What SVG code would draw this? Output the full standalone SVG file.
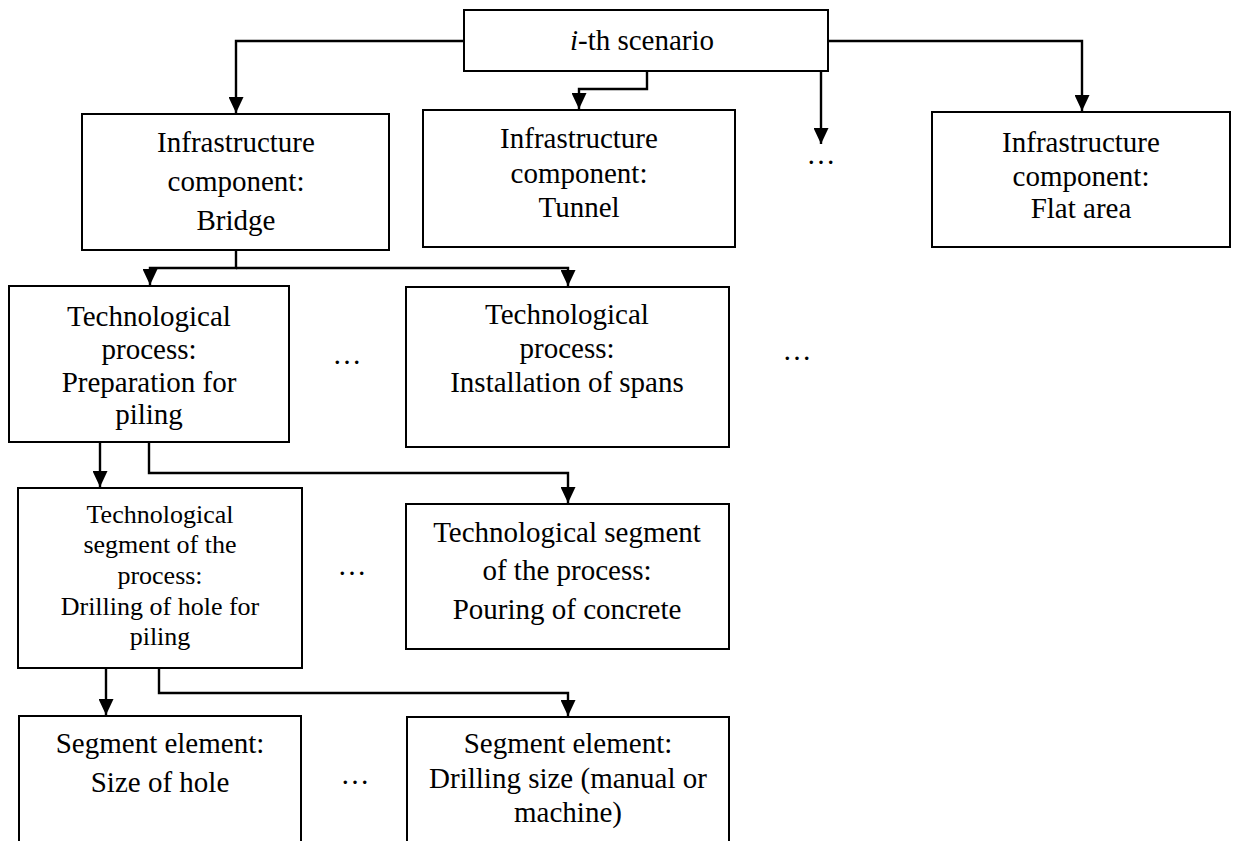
<svg xmlns="http://www.w3.org/2000/svg" width="1235" height="841" viewBox="0 0 1235 841">
  <defs>
    <style>
      .box { fill: #ffffff; stroke: #000000; stroke-width: 2; }
      .wire { fill: none; stroke: #000000; stroke-width: 2.4; }
      .lbl { font-family: 'Liberation Serif', 'DejaVu Serif', 'Times New Roman', serif; fill: #000000; text-anchor: middle; }
      .t29 { font-size: 29px; }
      .t26 { font-size: 26px; }
    </style>
    <marker id="arrow" viewBox="0 0 16 15" refX="16" refY="7.5" markerWidth="16" markerHeight="15" markerUnits="userSpaceOnUse" orient="auto">
      <path d="M0,0 L16,7.5 L0,15 Z" fill="#000000"/>
    </marker>
  </defs>
  <rect width="1235" height="841" fill="#ffffff"/>

  <!-- connectors -->
  <g id="connectors" class="wire">
    <path d="M464,41 H236 V113" marker-end="url(#arrow)"/>
    <path d="M647,71 V89 H579 V109" marker-end="url(#arrow)"/>
    <path d="M821,68 V144" marker-end="url(#arrow)"/>
    <path d="M828,41 H1082 V111" marker-end="url(#arrow)"/>
    <path d="M236,250 V268 H150 V285" marker-end="url(#arrow)"/>
    <path d="M236,268 H568 V286" marker-end="url(#arrow)"/>
    <path d="M100,442 V487" marker-end="url(#arrow)"/>
    <path d="M149,442 V473 H568 V503" marker-end="url(#arrow)"/>
    <path d="M106,668 V715" marker-end="url(#arrow)"/>
    <path d="M159,668 V693 H568 V716" marker-end="url(#arrow)"/>
  </g>

  <g class="lbl" font-family="'Liberation Serif', 'DejaVu Serif', 'Times New Roman', serif">
    <!-- root -->
    <g id="scenario">
      <rect class="box" x="464" y="10" width="364" height="61"/>
      <text class="t29" x="642" y="50"><tspan font-style="italic">i</tspan>-th scenario</text>
    </g>

    <!-- infrastructure components -->
    <g id="bridge">
      <rect class="box" x="82" y="114" width="307" height="136"/>
      <text class="t29" x="236" y="152">Infrastructure</text>
      <text class="t29" x="236" y="191">component:</text>
      <text class="t29" x="236" y="230">Bridge</text>
    </g>
    <g id="tunnel">
      <rect class="box" x="423" y="110" width="312" height="137"/>
      <text class="t29" x="579" y="148">Infrastructure</text>
      <text class="t29" x="579" y="183">component:</text>
      <text class="t29" x="579" y="217">Tunnel</text>
    </g>
    <g id="more-components">
      <text class="t29" x="821" y="164">…</text>
    </g>
    <g id="flat-area">
      <rect class="box" x="932" y="112" width="298" height="135"/>
      <text class="t29" x="1081" y="152">Infrastructure</text>
      <text class="t29" x="1081" y="186">component:</text>
      <text class="t29" x="1081" y="218">Flat area</text>
    </g>

    <!-- technological processes -->
    <g id="process-piling">
      <rect class="box" x="9" y="286" width="280" height="156"/>
      <text class="t29" x="149" y="326">Technological</text>
      <text class="t29" x="149" y="359">process:</text>
      <text class="t29" x="149" y="392">Preparation for</text>
      <text class="t29" x="149" y="424">piling</text>
    </g>
    <g id="more-processes-a">
      <text class="t29" x="347" y="364">…</text>
    </g>
    <g id="process-spans">
      <rect class="box" x="406" y="287" width="323" height="160"/>
      <text class="t29" x="567" y="324">Technological</text>
      <text class="t29" x="567" y="358">process:</text>
      <text class="t29" x="567" y="392">Installation of spans</text>
    </g>
    <g id="more-processes-b">
      <text class="t29" x="797" y="360">…</text>
    </g>

    <!-- technological segments -->
    <g id="segment-drilling">
      <rect class="box" x="18" y="488" width="284" height="180"/>
      <text class="t26" x="160" y="523">Technological</text>
      <text class="t26" x="160" y="553">segment of the</text>
      <text class="t26" x="160" y="584">process:</text>
      <text class="t26" x="160" y="615">Drilling of hole for</text>
      <text class="t26" x="160" y="645">piling</text>
    </g>
    <g id="more-segments">
      <text class="t29" x="352" y="575">…</text>
    </g>
    <g id="segment-pouring">
      <rect class="box" x="406" y="504" width="323" height="145"/>
      <text class="t29" x="567" y="542">Technological segment</text>
      <text class="t29" x="567" y="580">of the process:</text>
      <text class="t29" x="567" y="619">Pouring of concrete</text>
    </g>

    <!-- segment elements -->
    <g id="element-hole-size">
      <rect class="box" x="19" y="716" width="282" height="140"/>
      <text class="t29" x="160" y="753">Segment element:</text>
      <text class="t29" x="160" y="792">Size of hole</text>
    </g>
    <g id="more-elements">
      <text class="t29" x="355" y="784">…</text>
    </g>
    <g id="element-drilling-size">
      <rect class="box" x="407" y="717" width="322" height="140"/>
      <text class="t29" x="568" y="753">Segment element:</text>
      <text class="t29" x="568" y="788">Drilling size (manual or</text>
      <text class="t29" x="568" y="822">machine)</text>
    </g>
  </g>
</svg>
